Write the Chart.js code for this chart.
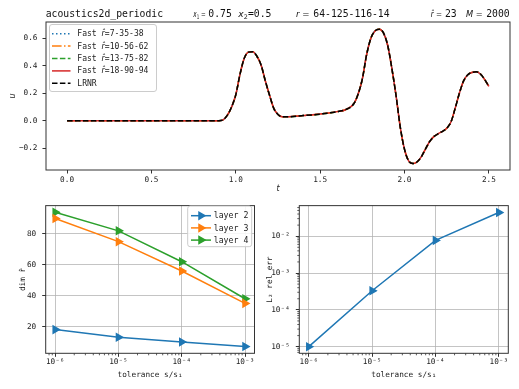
<!DOCTYPE html>
<html><head><meta charset="utf-8">
<script src="https://cdn.jsdelivr.net/npm/chart.js@4/dist/chart.umd.min.js"></script>
<style>
body{margin:0;background:#fff;width:519px;height:389px;overflow:hidden;position:relative}
canvas{position:absolute}
</style>
</head><body>
<canvas id="cTop" width="519" height="195" style="left:0;top:0"></canvas>
<canvas id="cBL" width="260" height="194" style="left:0;top:195px"></canvas>
<canvas id="cBR" width="259" height="194" style="left:260px;top:195px"></canvas>
<script>
// ---------------- data ----------------
const timeT = [0,0.1,0.2,0.3,0.4,0.5,0.6,0.7,0.8,0.9,0.92,0.95,0.975,
  1.0,1.025,1.05,1.075,1.1,1.125,1.15,1.175,1.2,1.225,1.25,1.275,1.3,
  1.4,1.5,1.6,1.65,
  1.7,1.725,1.75,1.775,1.8,1.825,1.85,1.875,1.9,1.925,1.95,1.975,2.0,2.025,2.05,2.075,2.1,2.125,2.15,2.175,2.2,2.225,2.25,2.275,2.3,2.325,2.35,2.375,2.4,2.425,2.45,2.475,2.5];
const uLRNR = [0,0,0,0,0,0,0,0,0,0,0.003,0.04,0.1,
  0.19,0.34,0.455,0.5,0.503,0.47,0.405,0.29,0.185,0.09,0.045,0.028,0.028,
  0.037,0.048,0.066,0.08,
  0.125,0.195,0.305,0.48,0.6,0.655,0.668,0.64,0.55,0.38,0.18,-0.05,-0.21,-0.295,-0.313,-0.3,-0.262,-0.205,-0.15,-0.115,-0.095,-0.078,-0.055,-0.01,0.09,0.2,0.29,0.335,0.352,0.357,0.34,0.3,0.25];
// the fast approximations overlay the LRNR curve in the picture
const uFast = uLRNR;
const fastLabels = ['7-35-38','10-56-62','13-75-82','18-90-94'];

const tTicks = [0,0.5,1.0,1.5,2.0,2.5];
const uTicks = [-0.2,0,0.2,0.4,0.6];

const tolerance = [1e-6,1e-5,1e-4,1e-3];
const layer2 = [18,13,10,7];
const layer3 = [90,75,56,35];
const layer4 = [94,82,62,38];
const relErr = [1.0e-5,3.3e-4,7.7e-3,4.4e-2];
const tolTicks = [1e-6,1e-5,1e-4,1e-3];
const dimTicks = [20,40,60,80];
const errTicks = [1e-5,1e-4,1e-3,1e-2];

// ---------------- helpers ----------------
const MONO = "'DejaVu Sans Mono', monospace";
const SANS = "'DejaVu Sans', sans-serif";
const mctx = document.createElement('canvas').getContext('2d');
mctx.font = "20px " + MONO;
const adv20 = mctx.measureText('0000000000').width / 10;
const sizeFor = a => +(20 * a / adv20).toFixed(2);
const TICK = sizeFor(4.65), LEG = sizeFor(4.85), LEG2 = sizeFor(4.95), TTL = sizeFor(5.87);

Chart.defaults.font.family = MONO;
Chart.defaults.font.size = TICK;
Chart.defaults.color = '#222';
const BLUE='#1f77b4', ORANGE='#ff7f0e', GREEN='#2ca02c', RED='#d62728';

const SUP = {'-':'⁻','0':'⁰','1':'¹','2':'²','3':'³','4':'⁴','5':'⁵','6':'⁶','7':'⁷','8':'⁸','9':'⁹'};
function powLabel(v){ const e=Math.round(Math.log10(v)); return '10'+String(e).split('').map(c=>SUP[c]).join(''); }
function fmt1(v){ return v.toFixed(1).replace('-','\u2212'); }
function setTicks(arr){ return s=>{ s.ticks = arr.map(v=>({value:v})); }; }

function drawRuns(ctx, x, y, runs){
  for(const [txt,font] of runs){ ctx.font=font; ctx.fillText(txt,x,y); x+=ctx.measureText(txt).width; }
  return x;
}
// math-like prefix squeezed into [x0,x1]; parts: [text, font, dy]
function drawMath(ctx, x0, x1, y, parts){
  let w=0; for(const [t,f] of parts){ ctx.font=f; w+=ctx.measureText(t).width; }
  const sx=(x1-x0)/w;
  ctx.save(); ctx.translate(x0,y); ctx.scale(sx,1);
  let x=0; for(const [t,f,dy] of parts){ ctx.font=f; ctx.fillText(t,x,dy||0); x+=ctx.measureText(t).width; }
  ctx.restore();
}
function roundBox(ctx,x,y,w,h,r){
  ctx.beginPath(); ctx.moveTo(x+r,y); ctx.lineTo(x+w-r,y); ctx.quadraticCurveTo(x+w,y,x+w,y+r);
  ctx.lineTo(x+w,y+h-r); ctx.quadraticCurveTo(x+w,y+h,x+w-r,y+h); ctx.lineTo(x+r,y+h);
  ctx.quadraticCurveTo(x,y+h,x,y+h-r); ctx.lineTo(x,y+r); ctx.quadraticCurveTo(x,y,x+r,y); ctx.closePath();
  ctx.fillStyle='rgba(255,255,255,0.85)'; ctx.fill(); ctx.strokeStyle='#cccccc'; ctx.lineWidth=1; ctx.stroke();
}
function frame(chart){
  const {ctx, chartArea:a}=chart; ctx.save(); ctx.strokeStyle='#333'; ctx.lineWidth=1;
  ctx.strokeRect(a.left, a.top, a.right-a.left, a.bottom-a.top); ctx.restore();
}
function minorTicks(chart, id, horizontal){
  const s=chart.scales[id], ctx=chart.ctx, a=chart.chartArea;
  ctx.save(); ctx.strokeStyle='#333'; ctx.lineWidth=0.8;
  for(let e=Math.floor(Math.log10(s.min)); e<=Math.ceil(Math.log10(s.max)); e++){
    for(let k=2;k<=9;k++){
      const v=k*Math.pow(10,e); if(v<s.min||v>s.max) continue;
      const p=s.getPixelForValue(v); ctx.beginPath();
      if(horizontal){ ctx.moveTo(p,a.bottom); ctx.lineTo(p,a.bottom+2); }
      else { ctx.moveTo(a.left,p); ctx.lineTo(a.left-2,p); }
      ctx.stroke();
    }
  }
  ctx.restore();
}
const base = {responsive:false, animation:false, devicePixelRatio:1,
  plugins:{legend:{display:false}, tooltip:{enabled:false}}};

// ---------------- top chart ----------------
const lineStyles = [
  {c:BLUE, dash:[1.5,2.5]},
  {c:ORANGE, dash:[9.6,2.4,1.5,2.4]},
  {c:GREEN, dash:[5.5,2.4]},
  {c:RED, dash:[]},
];
const topSets = fastLabels.map((lab,i)=>({
  label:'Fast r̂='+lab,
  data: timeT.map((t,j)=>({x:t,y:uFast[j]})),
  borderColor:lineStyles[i].c, borderDash:lineStyles[i].dash, borderWidth:1.5,
  pointRadius:0, cubicInterpolationMode:'monotone', fill:false, order:4-i
}));
topSets.push({label:'LRNR', data: timeT.map((t,j)=>({x:t,y:uLRNR[j]})),
  borderColor:'#000', borderDash:[5.5,2.4], borderWidth:1.5, pointRadius:0,
  cubicInterpolationMode:'monotone', fill:false, order:0});

new Chart(document.getElementById('cTop'), {
  type:'line',
  data:{datasets:topSets},
  options:{...base,
    layout:{padding:{left:0,right:9,top:22,bottom:0}},
    scales:{
      x:{type:'linear', min:-0.125, max:2.625, afterBuildTicks:setTicks(tTicks),
        ticks:{callback:v=>fmt1(v), maxRotation:0, autoSkip:false, padding:2},
        grid:{drawOnChartArea:false, tickLength:3.5, tickColor:'#333'}, border:{display:false},
        title:{display:true, text:'t', font:{family:SANS, style:'italic', size:8}, padding:{top:0,bottom:1}},
        afterFit:s=>{s.height=25;}},
      y:{type:'linear', min:-0.36, max:0.72, afterBuildTicks:setTicks(uTicks),
        ticks:{callback:v=>fmt1(v), autoSkip:false, padding:5},
        grid:{drawOnChartArea:false, tickLength:3.5, tickColor:'#333'}, border:{display:false},
        title:{display:true, text:'u', font:{family:SANS, style:'italic', size:8}, padding:{top:8.5,bottom:0}},
        afterFit:s=>{s.width=46;}}
    }
  },
  plugins:[{id:'topDeco', afterDraw(chart){
    frame(chart);
    const ctx=chart.ctx; ctx.save(); ctx.fillStyle='#111'; ctx.textBaseline='alphabetic';
    const tf=TTL+'px '+MONO;
    const mi='italic 9px '+SANS, ms='6.3px '+SANS, mr='9px '+SANS;
    const by=16.5;
    drawRuns(ctx,45.7,by,[['acoustics2d_periodic',tf]]);
    drawMath(ctx,193.3,207.5,by,[['x',mi],['1',ms,2.2],[' = ',mr]]);
    drawRuns(ctx,208.3,by,[['0.75',tf]]);
    drawMath(ctx,238.3,247.8,by,[['x',mi],['2',ms,2.2]]);
    drawRuns(ctx,248,by,[['=0.5',tf]]);
    drawMath(ctx,296,312.3,by,[['r',mi],[' = ',mr]]);
    drawRuns(ctx,313.3,by,[['64-125-116-14',tf]]);
    drawMath(ctx,430.7,444.3,by,[['r̂',mi],[' = ',mr]]);
    drawRuns(ctx,445,by,[['23',tf]]);
    drawMath(ctx,466,485.3,by,[['M',mi],[' = ',mr]]);
    drawRuns(ctx,486.2,by,[['2000',tf]]);
    // legend
    roundBox(ctx,49.5,24.5,107,67,2.5);
    const lf=LEG+'px '+MONO, li='italic '+LEG+'px '+SANS;
    ctx.textBaseline='middle'; ctx.fillStyle='#222';
    const rows=[33.7,46.1,58.5,70.9,83.3];
    topSets.forEach((ds,i)=>{
      const y=rows[i];
      ctx.save(); ctx.strokeStyle=ds.borderColor; ctx.lineWidth=1.5; ctx.setLineDash(ds.borderDash);
      ctx.beginPath(); ctx.moveTo(52,y); ctx.lineTo(70.5,y); ctx.stroke(); ctx.restore();
      if(i<4) drawRuns(ctx,77.3,y+0.5,[['Fast ',lf],['r̂',li],['='+fastLabels[i],lf]]);
      else drawRuns(ctx,77.3,y+0.5,[['LRNR',lf]]);
    });
    ctx.restore();
  }}]
});

// ---------------- bottom left ----------------
const gridCfg = {color:'rgba(176,176,176,0.75)', lineWidth:1, tickLength:3.5, tickColor:'#333'};
const tri = {pointStyle:'triangle', rotation:90, pointRadius:4, borderWidth:1.5};
const layerSets = [
  {label:'layer 2', data:tolerance.map((t,i)=>({x:t,y:layer2[i]})), borderColor:BLUE, backgroundColor:BLUE, ...tri},
  {label:'layer 3', data:tolerance.map((t,i)=>({x:t,y:layer3[i]})), borderColor:ORANGE, backgroundColor:ORANGE, ...tri},
  {label:'layer 4', data:tolerance.map((t,i)=>({x:t,y:layer4[i]})), borderColor:GREEN, backgroundColor:GREEN, ...tri},
];
const tolScale = {type:'logarithmic', min:Math.pow(10,-6.15), max:Math.pow(10,-2.85), afterBuildTicks:setTicks(tolTicks),
  ticks:{callback:v=>powLabel(v), maxRotation:0, autoSkip:false, padding:1},
  grid:gridCfg, border:{display:false},
  title:{display:true, text:'tolerance s/s₁', padding:{top:0,bottom:9.5}},
  afterFit:s=>{s.height=35.7;}};

new Chart(document.getElementById('cBL'), {
  type:'line',
  data:{datasets:layerSets},
  options:{...base,
    layout:{padding:{left:0,right:5,top:9.3,bottom:0}},
    scales:{
      x:tolScale,
      y:{type:'linear', min:2.65, max:98.35, afterBuildTicks:setTicks(dimTicks),
        ticks:{autoSkip:false, padding:6},
        grid:gridCfg, border:{display:false},
        title:{display:true, text:'dim r̂', padding:{top:18,bottom:0}},
        afterFit:s=>{s.width=45.7;}}
    }
  },
  plugins:[{id:'blDeco', afterDraw(chart){
    frame(chart); minorTicks(chart,'x',true);
    const ctx=chart.ctx; ctx.save();
    roundBox(ctx,187.7,11,64,40.7,2.5);
    ctx.textBaseline='middle'; ctx.fillStyle='#222';
    const rows=[20.7,32.9,45.1];
    layerSets.forEach((ds,i)=>{
      const y=rows[i];
      ctx.strokeStyle=ds.borderColor; ctx.lineWidth=1.5;
      ctx.beginPath(); ctx.moveTo(191,y); ctx.lineTo(211,y); ctx.stroke();
      ctx.fillStyle=ds.borderColor;
      Chart.helpers.drawPoint(ctx,{pointStyle:'triangle',rotation:90,radius:4,borderWidth:1},201,y);
      ctx.fillStyle='#222';
      drawRuns(ctx,213.7,y+0.5,[[ds.label,LEG2+'px '+MONO]]);
    });
    ctx.restore();
  }}]
});

// ---------------- bottom right ----------------
new Chart(document.getElementById('cBR'), {
  type:'line',
  data:{datasets:[{label:'L2 rel err', data:tolerance.map((t,i)=>({x:t,y:relErr[i]})),
    borderColor:BLUE, backgroundColor:BLUE, ...tri}]},
  options:{...base,
    layout:{padding:{left:0,right:10.7,top:9.3,bottom:0}},
    scales:{
      x:{...tolScale, grid:{...gridCfg}},
      y:{type:'logarithmic', min:Math.pow(10,-5.18), max:Math.pow(10,-1.17), afterBuildTicks:setTicks(errTicks),
        ticks:{callback:v=>powLabel(v), autoSkip:false, padding:6},
        grid:gridCfg, border:{display:false},
        title:{display:true, text:'L₂ rel err', padding:{top:5.5,bottom:0}},
        afterFit:s=>{s.width=39.3;}}
    }
  },
  plugins:[{id:'brDeco', afterDraw(chart){
    frame(chart); minorTicks(chart,'x',true); minorTicks(chart,'y',false);
  }}]
});
</script>
</body></html>
